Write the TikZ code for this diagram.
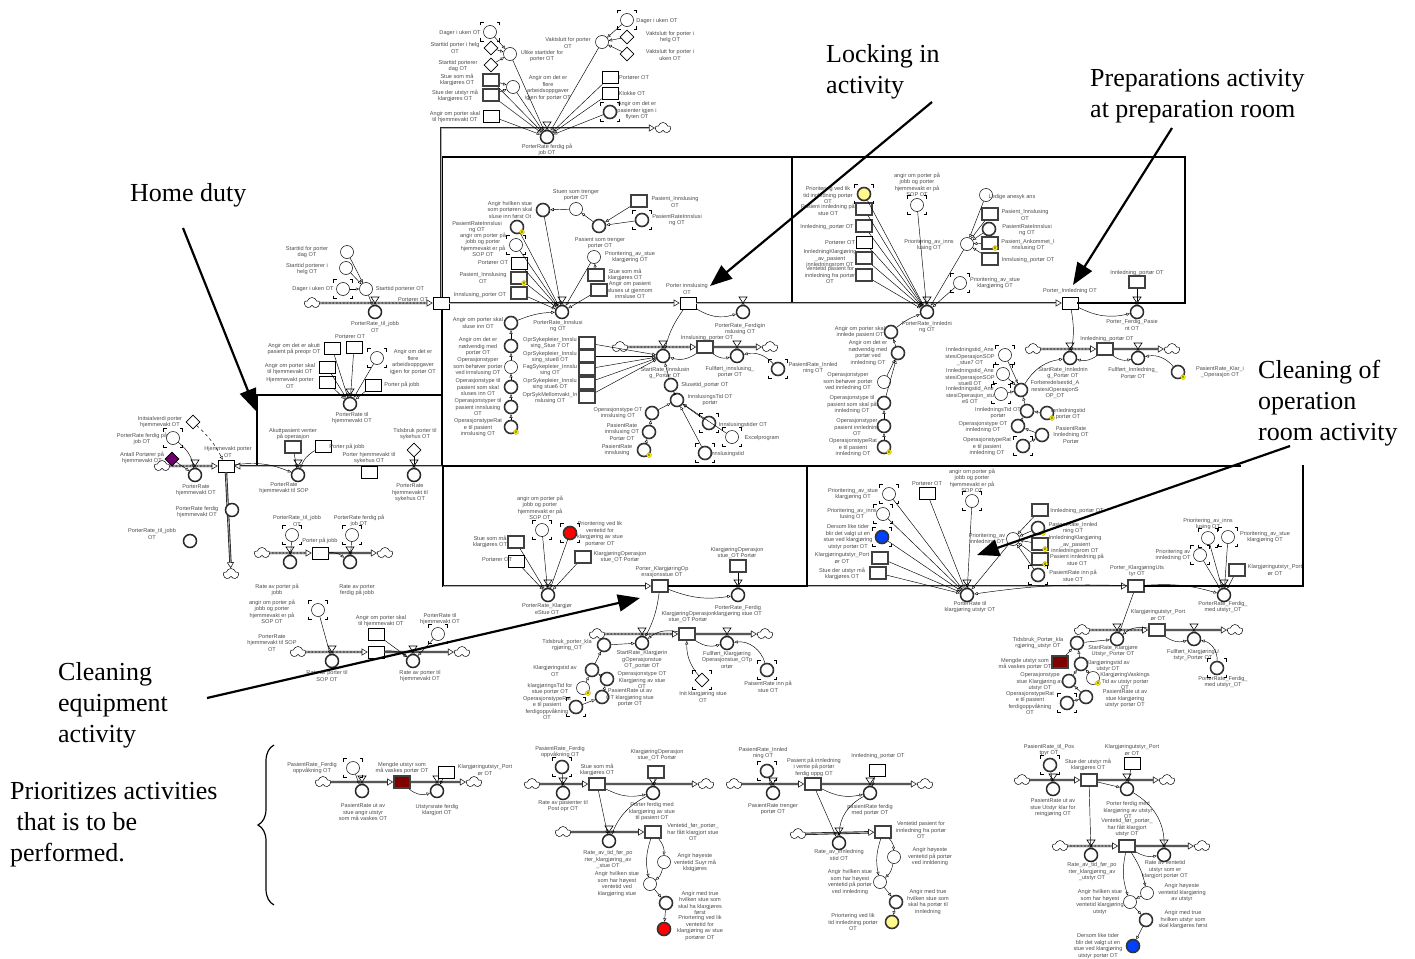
\documentclass[tikz,border=0pt]{standalone}
\usepackage{fontspec}
\setmainfont{Liberation Serif}
\newfontfamily\lsans{Liberation Sans}
\usetikzlibrary{arrows.meta,shapes.geometric,shapes.symbols,calc,decorations.pathreplacing}

\tikzset{
 lb/.style={font=\lsans\fontsize{5.6}{6.5}\selectfont, text=black!70, align=center, inner sep=0pt},
 big/.style={font=\fontsize{26}{31}\selectfont, align=left, inner sep=0pt, anchor=west},
 aux/.style={circle, draw, line width=0.5pt, minimum size=13pt, inner sep=0pt, fill=white},
 sh/.style={aux, line width=1.6pt, draw=black!80},
 stk/.style={rectangle, draw, line width=0.6pt, minimum width=16pt, minimum height=12pt, inner sep=0pt, fill=white},
 stkb/.style={stk, line width=1.6pt, draw=black!75},
 cns/.style={diamond, draw, line width=0.6pt, minimum size=14pt, inner sep=0pt, fill=white},
 rate/.style={circle, draw=black!85, line width=1.5pt, minimum size=13pt, inner sep=0pt, fill=white},
 cld/.style={cloud, cloud puffs=5, aspect=1.3, draw, line width=0.5pt, minimum width=15pt, minimum height=11pt, inner sep=0pt, fill=white},
 valve/.style={draw, line width=0.6pt, fill=white},
 con/.style={line width=0.45pt, -{Triangle[open,length=3.5pt,width=3pt,line width=0.4pt]}},
 pipe/.style={line width=2.4pt, draw=black!85, -{Triangle[open,fill=white,length=6pt,width=7pt,line width=0.6pt]}, postaction={draw=black!30, line width=0.7pt, -, shorten >=6pt}},
 dpipe/.style={pipe, postaction={draw=white, line width=0.8pt, -, dash pattern=on 2pt off 1.5pt, shorten >=6pt}},
 frame/.style={line width=2.4pt, line cap=rect},
 bigarrow/.style={line width=2.2pt, -{Triangle[length=22pt,width=17pt]}},
 gm/.style={line width=0.6pt},
 ydot/.style={circle, fill=yellow, draw=yellow!60!black, line width=0.3pt, minimum size=5pt, inner sep=0pt, font=\lsans\fontsize{4}{4}\selectfont},
 yel/.style={sh, fill=yellow!45},
 redc/.style={sh, fill=red},
 bluec/.style={sh, fill=blue!75!cyan},
 purp/.style={cns, fill=violet!85!black},
 dred/.style={stkb, fill=red!50!black},
}

% element with a text label at its own position
\newcommand\Nd[5]{\node[#1] (#2) at (#3) {}; \node[lb] (#2t) at (#4) {#5};}
% corner marks of a shadow variable
\newcommand\Gh[1]{\foreach \sx/\sy in {1/1,1/-1,-1/1,-1/-1}{\draw[gm] ($(#1)+(\sx*9.5,\sy*6.5)$) -- ($(#1)+(\sx*9.5,\sy*9.5)$) -- ($(#1)+(\sx*6.5,\sy*9.5)$);}}
% yellow marker of a range-checked variable
\newcommand\Yd[1]{\node[ydot] (#1y) at ($(#1)+(5,5)$) {\#};}
% flow rate: valve on the pipe at (x,y) and its circle below
\newcommand\Rt[5]{\draw[valve] (#2-4,#3-6) -- (#2+4,#3-6) -- (#2-4,#3+6) -- (#2+4,#3+6) -- cycle; \node[rate] (#1) at (#2,#3+9) {}; \node[lb] (#1t) at (#4) {#5};}

\begin{document}
\begin{tikzpicture}[x=1pt,y=-1pt]
\useasboundingbox (0,0) rectangle (1415,958);

% ---------- activity frames ----------
\draw[frame] (442,466) -- (442,157) -- (1185,157) -- (1185,303);
\draw[frame] (792,157) -- (792,303);
\draw[frame] (442,395) -- (257,395) -- (257,466);
\draw[frame] (442,466) -- (1240,466);
\draw[frame] (443,466) -- (443,586);
\draw[frame] (807,466) -- (807,586);
\draw[frame] (1303,466) -- (1303,586);

% ---------- stocks and clouds carrying the main flows ----------
\node[cld] (tc) at (663,128) {};
\node[cld] (hc) at (312,303) {};
\Nd{stk}{pot}{441,303}{413,300}{Portører OT}
\node[cld] (hc2) at (162,466) {};
\Nd{stk}{p11}{226,466}{228,452}{Hjemmevakt porter\\OT}
\coordinate (hjR) at (442,466);
\Nd{stk}{pinn}{688,303}{687,289}{Porter innslusing\\OT}
\Nd{stk}{pinl}{1070,303}{1070,291}{Porter\_Innledning OT}
\coordinate (bR) at (1185,303);
\node[cld] (ca1) at (620,347) {};
\Nd{stkb}{sinn}{705,347}{707,338}{Innslusing\_porter OT}
\node[cld] (ca2) at (770,347) {};
\node[cld] (cb1) at (1033,349) {};
\Nd{stkb}{sinl}{1105,349}{1107,339}{Innledning\_portør OT}
\node[cld] (cb2) at (1172,349) {};
\coordinate (cL) at (443,586);
\Nd{stkb}{pko}{660,586}{662,572}{Porter\_KlargjøringOp\\erasjonsstue OT}
\coordinate (cR) at (807,586);
\node[cld] (cc1) at (597,634) {};
\Nd{stkb}{skl}{687,634}{688,617}{KlargjøringOperasjon\\stue\_OT Portør}
\node[cld] (cc2) at (765,634) {};
\coordinate (dL) at (808,586);
\Nd{stkb}{pku}{1136,586}{1137,571}{Porter\_KlargjøringUts\\tyr OT}
\coordinate (dR) at (1303,586);
\node[cld] (cd1) at (1082,630) {};
\Nd{stkb}{sku}{1157,630}{1158,615}{Klargjøringutstyr\_Port\\ør OT}
\node[cld] (cd2) at (1235,630) {};
\node[cld] (nc1) at (323,782) {};
\Nd{dred}{nst}{402,782}{402,768}{Mengde utstyr som\\må vaskes portør OT}
\node[cld] (nc2) at (474,782) {};
\node[cld] (qc1) at (532,784) {};
\Nd{stkb}{qst}{597,784}{597,770}{Stue som må\\klargjøres OT}
\node[cld] (qc2) at (706,784) {};
\node[cld] (qc3) at (563,832) {};
\Nd{stkb}{qv}{653,832}{693,832}{Ventetid\_før\_portør\_\\har fått klargjort stue\\OT}
\node[cld] (rc1) at (734,784) {};
\Nd{stkb}{rst}{813,784}{814,767}{Pasient på innledning\\i vente på portør\\ferdig oppg OT}
\node[cld] (rc2) at (925,784) {};
\node[cld] (rc3) at (798,834) {};
\Nd{stkb}{rv}{883,832}{921,830}{Ventetid pasient for\\innledning fra portør\\OT}
\node[cld] (sc1) at (1022,780) {};
\Nd{stkb}{sst}{1089,780}{1088,765}{Stue der  utstyr må\\klargjøres OT}
\node[cld] (sc2) at (1167,780) {};
\node[cld] (sc3) at (1060,846) {};
\Nd{stkb}{sv}{1127,846}{1127,828}{Ventetid\_før\_portør\_\\har fått klargjort\\utstyr OT}
\node[cld] (sc4) at (1202,846) {};
% lower part of the home duty model
\node[cld] (uc1) at (231,574) {};
\node[cld] (vc1) at (262,553) {};
\Nd{stk}{vst}{320,553}{320,541}{Porter på jobb}
\node[cld] (vc2) at (385,553) {};
\node[cld] (wc1) at (298,652) {};
\node[stk] (wst) at (376,652) {};
\node[cld] (wc2) at (462,652) {};

% ---------- pipes ----------
\draw[pipe] (pot.north) |- (tc);
\draw[dpipe] (hc) -- (pot);
\draw[pipe] (pot) -- (pinn);
\draw[pipe] (pinn) -- (pinl);
\draw[frame] (pinl) -- (bR);
\draw[dpipe] (hc2) -- (p11);
\draw[pipe] (hjR) -- (p11);
\draw[dpipe] (ca1) -- (sinn);
\draw[pipe] (sinn) -- (ca2);
\draw[dpipe] (cb1) -- (sinl);
\draw[pipe] (sinl) -- (cb2);
\draw[pipe] (cL) -- (pko);
\draw[frame] (pko) -- (cR);
\draw[dpipe] (cc1) -- (skl);
\draw[pipe] (skl) -- (cc2);
\draw[pipe] (dL) -- (pku);
\draw[frame] (pku) -- (dR);
\draw[dpipe] (cd1) -- (sku);
\draw[pipe] (sku) -- (cd2);
\draw[pipe] (nc1) -- (nst);
\draw[pipe] (nst) -- (nc2);
\draw[pipe] (qc1) -- (qst);
\draw[pipe] (qst) -- (qc2);
\draw[pipe] (qc3) -- (qv);
\draw[pipe] (rc1) -- (rst);
\draw[pipe] (rst) -- (rc2);
\draw[pipe] (rc3) -- (rv);
\draw[pipe] (sc1) -- (sst);
\draw[pipe] (sst) -- (sc2);
\draw[dpipe] (sc3) -- (sv);
\draw[pipe] (sv) -- (sc4);
\draw[pipe] (p11.south) -- (uc1);
\draw[dpipe] (vc1) -- (vst);
\draw[pipe] (vst) -- (vc2);
\draw[dpipe] (wc1) -- (wst);
\draw[pipe] (wst) -- (wc2);

% ---------- flow rates ----------
\Rt{t9}{547}{128}{547,150}{PorterRate ferdig på\\job OT}
\Rt{h5}{375}{303}{375,327}{PorterRate\_til\_jobb\\OT}
\Rt{rp1}{195}{466}{196,490}{PorterRate\\hjemmevakt OT}
\Rt{p14}{298}{466}{284,488}{PorterRate\\hjemmevakt til SOP}
\Rt{p17}{414}{466}{410,493}{PorterRate\\hjemmevakt til\\sykehus OT}
\Rt{p7}{350}{395}{352,418}{PorterRate til\\hjemmevakt OT}
\Rt{rA}{562}{303}{558,326}{PorterRate\_Innslusi\\ng OT}
\Rt{rB}{743}{303}{740,329}{PorterRate\_Ferdigin\\nslusing OT}
\Rt{rSI}{663}{347}{665,373}{StartRate\_Innslusin\\g\_Portør OT}
\Rt{rFI}{737}{347}{730,372}{Fullført\_innslusing\_\\portør OT}
\Rt{rIn}{927}{303}{927,327}{PorterRate\_Innledni\\ng OT}
\Rt{rPF}{1137}{303}{1132,325}{Porter\_Ferdig\_Pasie\\nt OT}
\Rt{rSL}{1070}{349}{1063,373}{StartRate\_Innlednin\\g\_Portør OT}
\Rt{rFL}{1138}{349}{1133,373}{Fullført\_Innledning\_\\Portør OT}
\Rt{rKS}{548}{586}{547,609}{PorterRate\_Klargjør\\eStue OT}
\Rt{rFK}{738}{586}{738,611}{PorterRate\_Ferdig\\klargjøring stue OT}
\Rt{rSK}{642}{634}{642,660}{StartRate\_Klargjørin\\gOperasjonstue\\OT\_portør OT}
\Rt{rFKl}{727}{634}{727,660}{Fullført\_Klargjøring\\Operasjonstue\_OTp\\ortør}
\Rt{rKU}{967}{586}{970,607}{PorterRate til\\klargjøring utstyr OT}
\Rt{rFU}{1224}{586}{1223,607}{PorterRate\_Ferdig\_\\med utstyr\_OT}
\Rt{rSU}{1117}{630}{1113,651}{StartRate\_Klargjøre\\Utstyr\_Portør OT}
\Rt{rFUl}{1194}{630}{1193,655}{Fullført\_KlargjøringU\\tstyr\_Portør OT}
\Rt{rn1}{362}{782}{363,812}{PasientRate ut av\\stue angir utstyr\\som må vaskes OT}
\Rt{rn2}{437}{782}{437,810}{Utstyrsrate ferdig\\klargjort OT}
\Rt{rq1}{563}{784}{563,806}{Rate av pasienter til\\Post opr OT}
\Rt{rq2}{653}{784}{652,812}{Porter ferdig med\\klargjøring av stue\\til pasient OT}
\Rt{rq3}{609}{832}{608,860}{Rate\_av\_tid\_før\_po\\rter\_klargjøring\_av\\\_stue OT}
\Rt{rr1}{773}{784}{773,809}{PasientRate trenger\\portør OT}
\Rt{rr2}{870}{784}{870,810}{pasientRate ferdig\\med portør OT}
\Rt{rr3}{839}{834}{839,855}{Rate\_av\_innledning\\stid OT}
\Rt{rs1}{1053}{780}{1053,808}{PasientRate ut av\\stue Utstyr klar for\\reingjøring OT}
\Rt{rs2}{1127}{780}{1128,810}{Porter ferdig med\\klargjøring av utstyr\\OT}
\Rt{rs3}{1091}{846}{1092,872}{Rate\_av\_tid\_før\_po\\rter\_klargjøring\_av\\\_utstyr OT}
\Rt{rs4}{1164}{846}{1165,870}{Rate av ventetid\\utstyr som er\\klargjort portør OT}
\Rt{v3}{290}{553}{277,590}{Rate av porter på\\jobb}
\Rt{v4}{350}{553}{357,590}{Rate av porter\\ferdig på jobb}
\Rt{v9}{332}{652}{327,676}{Rate av porter til\\SOP OT}
\Rt{v10}{413}{652}{420,676}{Rate av porter til\\hjemmevakt OT}

% ---------- top cluster: porter leaving work ----------
\Nd{aux}{t1}{490,32}{460,33}{Dager i uken OT}\Gh{t1}
\Nd{cns}{t2}{491,48}{455,48}{Starttid porter i helg\\OT}
\Nd{aux}{t3}{510,54}{542,56}{Ulike startider for\\porter OT}
\Nd{cns}{t4}{491,65}{458,66}{Starttid porterer\\dag OT}
\Nd{stkb}{t5}{491,80}{457,80}{Stue som må\\klargjøres OT}
\Nd{stkb}{t6}{491,95}{455,96}{Stue der  utstyr må\\klargjøres OT}
\Nd{aux}{t7}{513,87}{548,88}{Angir om det er\\flere\\arbeidsoppgaver\\igjen for portør OT}
\Nd{stk}{t8}{491,116}{455,117}{Angir om porter skal\\til hjemmevakt OT}
\Nd{aux}{t10}{627,20}{657,21}{Dager i uken OT}\Gh{t10}
\Nd{aux}{t11}{602,42}{568,43}{Vaktslutt for porter\\OT}
\Nd{cns}{t12}{627,37}{670,37}{Vaktslutt for porter i\\helg OT}
\Nd{cns}{t13}{627,54}{670,55}{Vaktslutt for porter i\\uken OT}
\Nd{stk}{t14}{610,77}{634,78}{Portører OT}
\Nd{stk}{t15}{610,93}{632,93}{Klokke OT}
\Nd{sh}{t16}{610,112}{637,111}{Angir om det er\\pasienter igjen i\\flyten OT}\Gh{t16}

% ---------- home duty ----------
\Nd{aux}{h1}{347,252}{307,252}{Starttid for porter\\dag OT}
\Nd{aux}{h2}{346,268}{307,269}{Starttid porterer i\\helg OT}
\Nd{aux}{h3}{343,289}{313,289}{Dager i uken OT}\Gh{h3}
\Nd{aux}{h4}{366,289}{400,289}{Starttid porterer OT}
\Nd{stk}{p1}{332,348}{294,349}{Angir om det er akutt\\pasient på preopr OT}
\Nd{stk}{p2}{354,347}{350,337}{Portører OT}
\Nd{aux}{p3}{377,358}{413,362}{Angir om det er\\flere\\arbeidsoppgaver\\igjen for portør OT}\Gh{p3}
\Nd{stk}{p4}{327,367}{290,369}{Angir om porter skal\\til hjemmevakt OT}
\Nd{stk}{p5}{327,382}{290,383}{Hjemmevakt porter\\OT}
\Nd{stk}{p6}{373,385}{402,385}{Porter på jobb}
\Nd{cns}{p8}{193,422}{160,422}{Initsialverdi porter\\hjemmevakt OT}
\Nd{aux}{p9}{173,438}{142,439}{PorterRate ferdig på\\job OT}\Gh{p9}
\Nd{purp}{p10}{172,459}{142,458}{Antall Portører på\\hjemmevakt OT}
\Nd{stkb}{p12}{293,447}{293,434}{Akuttpasient venter\\på operasjon}
\Nd{stk}{p13}{323,446}{347,447}{Porter på jobb}
\Nd{stk}{p15}{369,472}{369,458}{Porter hjemmevakt til\\sykehus OT}
\Nd{cns}{p16}{414,450}{415,434}{Tidsbruk porter til\\sykehus OT}
\Nd{rate}{u1}{232,510}{197,512}{PorterRate ferdig\\hjemmevakt OT}
\Nd{rate}{u2}{190,541}{152,534}{PorterRate\_til\_jobb\\OT}
\Nd{aux}{v1}{292,535}{297,521}{PorterRate\_til\_jobb\\OT}\Gh{v1}
\Nd{aux}{v2}{352,535}{359,521}{PorterRate ferdig på\\job OT}\Gh{v2}
\Nd{aux}{v5}{318,610}{272,612}{angir om porter på\\jobb og porter\\hjemmevakt er på\\SOP OT}\Gh{v5}
\node[lb] (v6t) at (272,643) {PorterRate\\hjemmevakt til SOP\\OT};
\Nd{stk}{v7}{376,634}{381,621}{Angir om porter skal\\til hjemmevakt OT}
\Nd{aux}{v8}{438,634}{440,619}{PorterRate til\\hjemmevakt OT}\Gh{v8}

% ---------- locking in: upper part ----------
\Nd{sh}{a1}{543,210}{510,210}{Angir hvilken stue\\som portøren skal\\sluse inn først Ot}
\Nd{aux}{a2}{576,209}{576,195}{Stuen som trenger\\portør OT}
\Nd{stkb}{a3}{639,201}{675,202}{Pasient\_Innslusing\\OT}
\Nd{sh}{a4}{642,220}{677,220}{PasientRateInnslusi\\ng OT}\Gh{a4}
\Nd{sh}{a5}{599,226}{600,243}{Pasient som trenger\\portør OT}
\Nd{sh}{a6}{517,227}{477,227}{PasientRateInnslusi\\ng OT}\Yd{a6}
\Nd{aux}{a7}{516,245}{483,245}{angir om porter på\\jobb og porter\\hjemmevakt er på\\SOP OT}\Gh{a7}
\Nd{stk}{a8}{519,263}{493,263}{Portører OT}
\Nd{stkb}{a9}{519,278}{483,278}{Pasient\_Innslusing\\OT}\Yd{a9}
\Nd{stkb}{a10}{519,293}{480,295}{Innslusing\_porter OT}
\Nd{aux}{a11}{594,257}{630,257}{Prioritering\_av\_stue\\klargjøring OT}
\Nd{stkb}{a12}{596,275}{625,275}{Stue som må\\klargjøres OT}
\Nd{stkb}{a13}{599,290}{630,290}{Angir om pasient\\sluses ut gjennom\\innsluse OT}

% ---------- locking in: lower part ----------
\Nd{sh}{b1}{511,323}{478,323}{Angir om porter skal\\sluse inn OT}
\Nd{sh}{b2}{511,346}{478,347}{Angir om det er\\nødvendig med\\portør OT}
\Nd{aux}{b3}{511,367}{478,367}{Operasjonstyper\\som behøver portør\\ved innslusing OT}
\Nd{sh}{b4}{511,387}{478,387}{Operasjonstype til\\pasient som skal\\sluses inn OT}
\Nd{sh}{b5}{511,407}{478,407}{Operasjonstyper til\\pasient innslusing\\OT}
\Nd{sh}{b6}{511,427}{478,428}{OperasjonstypeRat\\e til pasient\\innslusing OT}\Yd{b6}
\Nd{stkb}{oc1}{587,343}{550,343}{OprSykepleier\_Innslu\\sing\_Stue 7 OT}
\Nd{stkb}{oc2}{587,356}{550,357}{OprSykepleier\_Innslu\\sing\_stue8 OT}
\Nd{stkb}{oc3}{587,369}{550,370}{FagSykepleier\_Innslu\\sing OT}
\Nd{stkb}{oc4}{587,383}{550,384}{OprSykepleier\_Innslu\\sing stue6 OT}
\Nd{stkb}{oc5}{587,397}{550,398}{OprSykMellomvakt\_In\\nslusing OT}
\Nd{sh}{c1}{778,369}{813,368}{PasientRate\_Innled\\ning OT}\Gh{c1}
\Nd{sh}{b7}{671,385}{705,385}{Slusetid\_portør OT}
\Nd{sh}{b8}{677,400}{710,400}{InnslusingsTid OT\\portør}
\Nd{sh}{b9}{652,413}{618,413}{Operasjonstype OT\\innslusing OT}
\Nd{sh}{b10}{649,432}{622,432}{PasientRate\\innslusing OT\\Portør OT}
\Nd{sh}{b11}{644,450}{617,450}{PasientRate\\innslusing}\Yd{b11}
\Nd{sh}{b12}{709,423}{743,425}{Innslusingstider OT}\Gh{b12}
\Nd{aux}{b13}{732,437}{762,438}{Excelprogram}\Gh{b13}
\Nd{sh}{b14}{705,453}{727,454}{Innslusingstid}\Gh{b14}

% ---------- preparations ----------
\Nd{yel}{d1}{864,194}{828,195}{Prioritering ved lik\\tid innledning portør\\OT}\Gh{d1}
\Nd{stkb}{d2}{864,209}{828,210}{Pasient innledning på\\stue OT}
\Nd{stkb}{d3}{864,226}{827,227}{Innledning\_portør OT}
\Nd{stk}{d4}{864,242}{840,243}{Portører OT}
\Nd{stkb}{d5}{864,258}{830,259}{InnledningKlargjøring\\\_av\_pasient\\innledningsrom OT}
\Nd{stkb}{d6}{864,275}{830,275}{Ventetid pasient for\\innledning fra portør\\OT}
\Nd{aux}{d7}{917,205}{917,185}{angir om porter på\\jobb og porter\\hjemmevakt er på\\SOP OT}\Gh{d7}
\Nd{aux}{d8}{967,244}{929,245}{Prioritering\_av\_inns\\lusing OT}
\Nd{aux}{d9}{986,195}{1012,197}{Ledige anesyk ans}
\Nd{stkb}{d10}{990,214}{1025,215}{Pasient\_Innslusing\\OT}
\Nd{sh}{d11}{989,229}{1027,230}{PasientRateInnslusi\\ng OT}
\Nd{stkb}{d12}{990,243}{1028,245}{Pasient\_Ankommet\_I\\nnslusing OT}\Yd{d12}
\Nd{stkb}{d13}{990,259}{1028,260}{Innslusing\_portør OT}
\Nd{aux}{d14}{960,283}{995,283}{Prioritering\_av\_stue\\klargjøring OT}\Gh{d14}
\Nd{stkb}{d15}{1137,282}{1137,273}{Innledning\_portør OT}
\Nd{sh}{e1}{891,332}{860,332}{Angir om porter skal\\innlede pasient OT}
\Nd{sh}{e2}{898,353}{868,353}{Angir om det er\\nødvendig med\\portør ved\\innledning OT}
\Nd{aux}{e3}{884,382}{848,382}{Operasjonstyper\\som behøver portør\\ved innledning OT}
\Nd{sh}{e4}{884,403}{852,405}{Operasjonstype til\\pasient som skal på\\innledning OT}
\Nd{sh}{e5}{884,426}{857,427}{Operasjonstyper\\pasient innledning\\OT}
\Nd{sh}{e6}{884,447}{853,448}{OperasjonstypeRat\\e til pasient\\innledning OT}\Yd{e6}
\Nd{aux}{f1}{1005,355}{970,357}{Innledningstid\_Ane\\stesiOperasjonSOP\\\_stue7 OT}\Gh{f1}
\Nd{aux}{f2}{1003,374}{970,377}{Innledningstid\_Ane\\stesiOperasjonSOP\\stue8 OT}\Gh{f2}
\Nd{aux}{f3}{1001,394}{970,395}{Innledningstid\_Ane\\stesiOperasjon\_stu\\e6 OT}\Gh{f3}
\Nd{sh}{f4}{1021,390}{1055,390}{Forberedelsestid\_A\\nestesiOperasjonS\\OP\_OT}
\Nd{sh}{f5}{1027,411}{998,413}{InnledningsTid OT\\portør}
\Nd{sh}{f6}{1047,413}{1068,414}{Innledningstid\\portør OT}\Yd{f6}
\Nd{sh}{f7}{1018,426}{983,427}{Operasjonstype OT\\innledning OT}
\Nd{sh}{f8}{1042,435}{1071,435}{PasientRate\\Innledning OT\\Portør}
\Nd{sh}{f9}{1023,446}{987,447}{OperasjonstypeRat\\e til pasient\\innledning OT}\Gh{f9}
\Nd{sh}{f10}{1178,372}{1220,372}{PasientRate\_Klar\_i\\\_Operasjon OT}\Yd{f10}

% ---------- cleaning of equipment ----------
\Nd{aux}{g1}{542,530}{540,508}{angir om porter på\\jobb og porter\\hjemmevakt er på\\SOP OT}\Gh{g1}
\Nd{redc}{g2}{570,533}{600,534}{Prioritering ved lik\\ventetid for\\klargjøring av stue\\portører OT}\Gh{g2}
\Nd{stkb}{g3}{516,542}{490,542}{Stue som må\\klargjøres OT}
\Nd{stk}{g4}{516,561}{497,560}{Portører OT}
\Nd{stkb}{g5}{583,557}{620,557}{KlargjøringOperasjon\\stue\_OT Portør}
\Nd{stkb}{g6}{738,566}{737,553}{KlargjøringOperasjon\\stue\_OT Portør}
\Nd{sh}{g7}{604,645}{567,645}{Tidsbruk\_porter\_kla\\rgjøring\_OT}
\Nd{sh}{g8}{592,670}{555,671}{Klargjøringstid av\\OT}
\Nd{sh}{g9}{607,679}{642,680}{Operasjonstype OT\\Klargjøring av stue\\OT}
\Nd{aux}{g10}{583,688}{550,689}{klargjøringsTid for\\stue portør OT}\Yd{g10}
\Nd{sh}{g11}{602,697}{630,698}{PasientRate ut av\\OT klargjøring stue\\portør OT}
\Nd{sh}{g12}{576,707}{547,708}{OperasjonstypeRat\\e til pasient\\ferdigoppvåkning\\OT}\Gh{g12}
\Nd{cns}{g13}{702,680}{703,697}{Init klargjøring stue\\OT}\Gh{g13}
\Nd{sh}{g14}{767,670}{768,687}{PaisentRate inn på\\stue OT}\Gh{g14}

% ---------- cleaning of operation room ----------
\Nd{aux}{k1}{889,494}{853,494}{Prioritering\_av\_stue\\klargjøring OT}\Gh{k1}
\Nd{stk}{k2}{927,493}{927,484}{Portører OT}
\Nd{aux}{k3}{972,501}{972,481}{angir om porter på\\jobb og porter\\hjemmevakt er på\\SOP OT}\Gh{k3}
\Nd{aux}{k4}{883,514}{852,514}{Prioritering\_av\_inns\\lusing OT}\Gh{k4}
\Nd{bluec}{k5}{882,537}{848,537}{Dersom like tider\\blir det valgt ut en\\stue ved klargjøring\\utstyr portør OT}\Gh{k5}
\Nd{stkb}{k6}{880,558}{842,558}{Klargjøringutstyr\_Port\\ør OT}
\Nd{stkb}{k7}{878,573}{842,574}{Stue der  utstyr må\\klargjøres OT}
\Nd{stkb}{k8}{1040,510}{1077,511}{Innledning\_portør OT}
\Nd{aux}{k9}{1013,539}{987,539}{Prioritering\_av\\innledning OT}
\Nd{sh}{k10}{1038,528}{1073,528}{PasientRate\_Innled\\ning OT}\Yd{k10}
\Nd{stkb}{k11}{1040,544}{1075,545}{InnledningKlargjøring\\\_av\_pasient\\innledningsrom OT}\Yd{k11}
\Nd{stkb}{k12}{1040,559}{1077,560}{Pasient innledning på\\stue OT}\Yd{k12}
\Nd{sh}{k13}{1038,575}{1073,576}{PasientRate inn på\\stue OT}\Gh{k13}
\Nd{aux}{k14}{1208,538}{1208,524}{Prioritering\_av\_inns\\lusing OT}\Gh{k14}
\Nd{aux}{k15}{1228,537}{1265,537}{Prioritering\_av\_stue\\klargjøring OT}\Gh{k15}
\Nd{aux}{k16}{1200,555}{1173,555}{Prioritering av\\innledning OT}\Gh{k16}
\Nd{stkb}{k17}{1237,570}{1275,570}{Klargjøringutstyr\_Port\\ør OT}
\Nd{sh}{m1}{1077,643}{1038,643}{Tidsbruk\_Portør\_kla\\rgjøring\_utstyr OT}
\Nd{dred}{m2}{1060,662}{1025,664}{Mengde utstyr som\\må vaskes portør OT}
\Nd{sh}{m3}{1081,664}{1108,666}{Klargjøringstid av\\utstyr OT}
\Nd{sh}{m4}{1069,681}{1040,682}{Operasjonstype\\stue Klargjøring av\\utstyr OT}
\Nd{aux}{m5}{1093,678}{1125,681}{KlargjøringVaskings\\Tid av utstyr portør\\OT}\Yd{m5}
\Nd{sh}{m6}{1086,697}{1125,699}{PasientRate ut av\\stue klargjøring\\utstyr portør OT}
\Nd{sh}{m7}{1067,703}{1030,703}{OperasjonstypeRat\\e til pasient\\ferdigoppvåkning\\OT}\Gh{m7}
\Nd{sh}{m8}{1217,668}{1223,682}{PorterRate\_Ferdig\_\\med utstyr\_OT}\Gh{m8}

% ---------- prioritisation models ----------
\Nd{aux}{n1}{353,768}{312,768}{PasientRate\_Ferdig\\oppvåkning OT}\Gh{n1}
\Nd{stk}{n2}{446,772}{485,770}{Klargjøringutstyr\_Port\\ør OT}
\Nd{sh}{q1}{562,767}{560,752}{PasientRate\_Ferdig\\oppvåkning OT}\Gh{q1}
\Nd{stkb}{q2}{656,772}{657,755}{KlargjøringOperasjon\\stue\_OT Portør}
\Nd{aux}{q3}{664,862}{695,863}{Angir høyeste\\ventetid  Suyr må\\klstgjøres}
\Nd{aux}{q4}{650,884}{617,884}{Angir hvilken stue\\som har høyest\\ventetid ved\\klargjøring stue}
\Nd{sh}{q5}{666,903}{700,903}{Angir med true\\hvilken stue som\\skal ha klargjøres\\først}
\Nd{redc}{q6}{664,929}{700,928}{Priortering ved lik\\ventetid for\\klargjøring av stue\\portører OT}
\Nd{sh}{r1}{767,771}{763,753}{PasientRate\_Innled\\ning OT}\Gh{r1}
\Nd{stk}{r2}{877,770}{878,756}{Innledning\_portør OT}
\Nd{aux}{r3}{894,857}{930,857}{Angir høyeste\\ventetid  på portør\\ved innldening}
\Nd{aux}{r4}{880,882}{850,882}{Angir hvilken stue\\som har høyest\\ventetid på portør\\ved innledning}
\Nd{sh}{r5}{896,902}{928,902}{Angir med true\\hvilken stue som\\skal ha portør til\\innledning}
\Nd{yel}{r6}{892,922}{853,922}{Priortering ved lik\\tid innledning portør\\OT}
\Nd{sh}{s1}{1050,765}{1049,750}{PasientRate\_til\_Pos\\tpyr OT}\Gh{s1}
\Nd{stk}{s2}{1132,763}{1132,750}{Klargjøringutstyr\_Port\\ør OT}
\Nd{aux}{s3}{1147,893}{1182,893}{Angir høyeste\\ventetid klargjøring\\av utstyr}
\Nd{aux}{s4}{1130,902}{1100,902}{Angir hvilken stue\\som har høyest\\ventetid klargjøring\\utstyr}
\Nd{sh}{s5}{1146,920}{1183,920}{Angir med true\\hvilken utstyr som\\skal klargjøres først}
\Nd{bluec}{s6}{1133,946}{1098,946}{Dersom like tider\\blir det valgt ut en\\stue ved klargjøring\\utstyr portør OT}

% ---------- information links ----------
\foreach \s in {t1,t2,t4}{\draw[con] (\s) -- (t3);}
\draw[con] (t5) -- (t7); \draw[con] (t6) -- (t7);
\foreach \s in {t3,t5,t6,t7,t8,t11,t14,t15,t16}{\draw[con] (\s) -- (t9);}
\foreach \s in {t10,t12,t13}{\draw[con] (\s) -- (t11);}

\foreach \s in {h1,h2,h3}{\draw[con] (\s) -- (h4);}
\draw[con] (h4) -- (h5);
\foreach \s in {p1,p2,p3,p4,p5,p6}{\draw[con] (\s) -- (p7);}
\draw[con, dashed] (p8) to[bend left=10] (p11);
\draw[con] (p9) to[bend left=20] (rp1);
\draw[con] (p10) -- (rp1);
\draw[con] (p12) -- (p14);
\draw[con] (p13) to[bend right=20] (p14);
\draw[con] (p16) -- (p17);
\draw[con] (p11) to[bend left=15] (p14);
\draw[con] (v1) -- (v3); \draw[con] (v2) -- (v4);
\draw[con] (vst) to[bend left=20] (v4);
\draw[con] (v5) -- (v9); \draw[con] (v7) -- (v10); \draw[con] (v8) -- (v10);
\draw[con] (wst) to[bend left=20] (v10);

\draw[con] (a2) -- (a1); \draw[con] (a5) -- (a2);
\draw[con] (a3) -- (a5); \draw[con] (a4) -- (a5);
\foreach \s in {a1,a6,a7,a8,a9,a10,a11,a13}{\draw[con] (\s) -- (rA);}
\draw[con] (a12) -- (a11);
\draw[con] (b1) to[bend left=10] (rA);
\draw[con] (b2) -- (b1); \draw[con] (b3) -- (b2); \draw[con] (b4) -- (b3);
\draw[con] (b5) -- (b4); \draw[con] (b6) -- (b5);
\foreach \s in {oc1,oc2,oc3,oc4,oc5}{\draw[con] (\s) -- (rSI);}
\draw[con] (pinn) to[bend right=10] (rSI);
\draw[con] (b7) -- (rSI); \draw[con] (b8) -- (b7); \draw[con] (b9) -- (b8);
\draw[con] (b10) -- (b9); \draw[con] (b11) -- (b10);
\foreach \s in {b12,b13,b14}{\draw[con] (\s) -- (b8);}
\draw[con] (sinn) to[bend left=25] (rSI);
\draw[con] (sinn) to[bend right=25] (rFI);
\draw[con] (c1) to[bend right=30] (rFI);
\draw[con] (pinn) to[bend right=25] (rB);

\foreach \s in {d1,d2,d3,d4,d5,d6,d7,d8,d14}{\draw[con] (\s) -- (rIn);}
\foreach \s in {d9,d10,d11,d12,d13}{\draw[con] (\s) -- (d8);}
\draw[con] (e1) to[bend left=10] (rIn);
\draw[con] (e2) -- (e1); \draw[con] (e3) -- (e2); \draw[con] (e4) -- (e2);
\draw[con] (e5) -- (e4); \draw[con] (e6) -- (e5);
\foreach \s in {f1,f2,f3,f5}{\draw[con] (\s) -- (f4);}
\draw[con] (f6) -- (f5); \draw[con] (f7) -- (f5); \draw[con] (f8) -- (f7); \draw[con] (f9) -- (f8);
\draw[con] (f4) to[bend left=25] (rSL);
\draw[con] (pinl) to[bend left=10] (rSL);
\draw[con] (d15) -- (rPF);
\draw[con] (pinl) to[bend right=20] (rPF);
\draw[con] (sinl) to[bend left=25] (rSL);
\draw[con] (sinl) to[bend right=25] (rFL);
\draw[con] (f10) to[bend right=30] (rFL);

\foreach \s in {g1,g2,g3,g4,g5}{\draw[con] (\s) -- (rKS);}
\draw[con] (g6) -- (rFK);
\draw[con] (pko) to[bend right=15] (rFK);
\draw[con] (pko) to[bend left=10] (rSK);
\draw[con] (g7) -- (rSK); \draw[con] (g8) -- (g7); \draw[con] (g9) -- (g8);
\draw[con] (g10) -- (g8); \draw[con] (g11) -- (g9); \draw[con] (g12) -- (g11);
\draw[con] (g13) to[bend left=20] (skl);
\draw[con] (g14) to[bend right=40] (rFKl);
\draw[con] (skl) to[bend right=25] (rSK);
\draw[con] (skl) to[bend right=25] (rFKl);

\foreach \s in {k1,k2,k3,k4,k5,k6,k7,k9}{\draw[con] (\s) -- (rKU);}
\foreach \s in {k8,k10,k11,k12,k13}{\draw[con] (\s) -- (k9);}
\foreach \s in {k14,k15,k16,k17}{\draw[con] (\s) -- (rFU);}
\draw[con] (pku) to[bend left=10] (rFU);
\draw[con] (pku) to[bend right=5] (rKU);
\draw[con] (pku) -- (rSU);
\draw[con] (m1) -- (rSU); \draw[con] (m2) -- (m1); \draw[con] (m3) -- (m1);
\draw[con] (m4) -- (m3); \draw[con] (m5) -- (m3); \draw[con] (m6) -- (m4); \draw[con] (m7) -- (m6);
\draw[con] (m8) to[bend right=40] (rFUl);
\draw[con] (sku) to[bend right=25] (rSU);
\draw[con] (sku) to[bend right=25] (rFUl);

\draw[con] (n1) -- (rn1); \draw[con] (nst) to[bend right=30] (rn2); \draw[con] (n2) -- (rn2);
\draw[con] (q1) -- (rq1); \draw[con] (qst) to[bend right=20] (rq2); \draw[con] (q2) -- (rq2);
\draw[con] (qst) -- (rq3); \draw[con] (rq2) to[bend right=20] (rq3);
\draw[con] (qv) to[bend left=20] (q3); \draw[con] (qv) to[bend right=15] (q4);
\draw[con] (q3) to[bend left=20] (q4); \draw[con] (q4) -- (q5); \draw[con] (q5) -- (q6);
\draw[con] (r1) -- (rr1); \draw[con] (rst) to[bend right=20] (rr2); \draw[con] (r2) -- (rr2);
\draw[con] (rst) -- (rr3); \draw[con] (rr2) to[bend right=30] (rr3);
\draw[con] (rv) to[bend left=20] (r3); \draw[con] (rv) to[bend right=15] (r4);
\draw[con] (r3) to[bend left=20] (r4); \draw[con] (r4) -- (r5); \draw[con] (r5) -- (r6);
\draw[con] (s1) -- (rs1); \draw[con] (sst) -- (rs2); \draw[con] (s2) -- (rs2);
\draw[con] (sst) -- (rs3); \draw[con] (rs2) to[bend left=30] (rs4);
\draw[con] (sv) to[bend right=20] (rs4);
\draw[con] (sv) to[bend left=10] (s3); \draw[con] (sv) to[bend right=15] (s4);
\draw[con] (s3) -- (s4); \draw[con] (s4) -- (s5); \draw[con] (s5) -- (s6);

% ---------- annotations ----------
\node[big] (lHome) at (130,195) {Home duty};
\node[big] (lLock) at (826,72) {Locking in\\activity};
\node[big] (lPrep) at (1090,96) {Preparations activity\\at preparation room};
\node[big] (lOpr) at (1258,403) {Cleaning of\\operation\\room activity};
\node[big] (lEqp) at (58,705) {Cleaning\\equipment\\activity};
\node[big] (lPri) at (10,825) {Prioritizes activities\\~that is to be\\performed.};
\coordinate (aH1) at (183,228); \coordinate (aH2) at (256,411);
\coordinate (aL1) at (932,102); \coordinate (aL2) at (710,286);
\coordinate (aP1) at (1172,128); \coordinate (aP2) at (1073,285);
\coordinate (aO1) at (1290,446); \coordinate (aO2) at (977,555);
\coordinate (aE1) at (207,698); \coordinate (aE2) at (640,598);
\draw[bigarrow] (aH1) -- (aH2);
\draw[bigarrow] (aL1) -- (aL2);
\draw[bigarrow] (aP1) -- (aP2);
\draw[bigarrow] (aO1) -- (aO2);
\draw[bigarrow] (aE1) -- (aE2);
\coordinate (bB) at (274,905); \coordinate (bT) at (274,745);
\draw[line width=1.2pt, decorate, decoration={brace, amplitude=16pt}] (bB) -- (bT);
\end{tikzpicture}
\end{document}
